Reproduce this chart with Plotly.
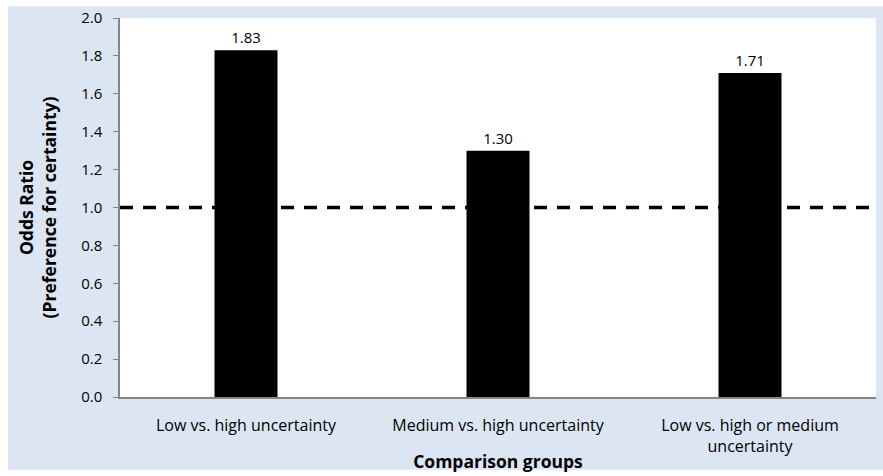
import plotly.graph_objects as go

categories = ["Low vs. high uncertainty", "Medium vs. high uncertainty", "Low vs. high or medium<br>uncertainty"]
odds_ratios = [1.83, 1.30, 1.71]
bar_labels = ["1.83", "1.30", "1.71"]
reference_value = 1.0
y_ticks = [0.0, 0.2, 0.4, 0.6, 0.8, 1.0, 1.2, 1.4, 1.6, 1.8, 2.0]

FONT = "Open Sans"
W, H = 883, 476
L, R, T, B = 120, 7, 16, 74
PW, PH = W - L - R, H - T - B

fig = go.Figure()
fig.add_trace(go.Bar(
    x=categories, y=odds_ratios, text=bar_labels, textposition="outside",
    textfont=dict(size=15, color="#000000", family=FONT),
    marker=dict(color="#000000", line=dict(width=0)), width=0.25,
    cliponaxis=False,
))

fig.update_layout(
    width=W, height=H,
    margin=dict(l=L, r=R, t=T, b=B),
    paper_bgcolor="white", plot_bgcolor="white",
    showlegend=False,
    font=dict(family=FONT, size=15, color="#000000"),
    shapes=[
        dict(type="rect", xref="paper", yref="paper",
             x0=(8 - L) / PW, x1=(W - L) / PW,
             y0=-B / PH, y1=(H - B - 4) / PH,
             fillcolor="#dce6f2", line=dict(width=0), layer="below"),
        dict(type="rect", xref="paper", yref="paper", x0=0, x1=1, y0=0, y1=1,
             fillcolor="white", line=dict(width=0), layer="below"),
        dict(type="line", xref="paper", yref="y", x0=0, x1=1,
             y0=reference_value, y1=reference_value,
             line=dict(color="#000000", width=3.5, dash="13px,10px")),
    ],
    xaxis=dict(
        showline=True, linecolor="#868686", linewidth=1.5,
        ticks="outside", ticklen=13, tickcolor="rgba(0,0,0,0)",
        tickfont=dict(size=16, family=FONT),
        title=dict(text="<b>Comparison groups</b>", font=dict(size=17.5, family=FONT), standoff=0),
        showgrid=False,
    ),
    yaxis=dict(
        range=[0, 2.0], tickvals=y_ticks, tickformat=".1f",
        showline=True, linecolor="#868686", linewidth=1.5,
        ticks="outside", ticklen=5, tickcolor="#868686", tickwidth=1,
        ticklabelstandoff=8,
        tickfont=dict(size=15, family=FONT),
        showgrid=False, zeroline=False,
        title=dict(text="<b>Odds Ratio<br>(Preference for certainty)</b>",
                   font=dict(size=17.5, family=FONT), standoff=20),
    ),
)

fig.write_html("out.html", config={"displayModeBar": False},
               post_script="document.body.style.margin='0';")
